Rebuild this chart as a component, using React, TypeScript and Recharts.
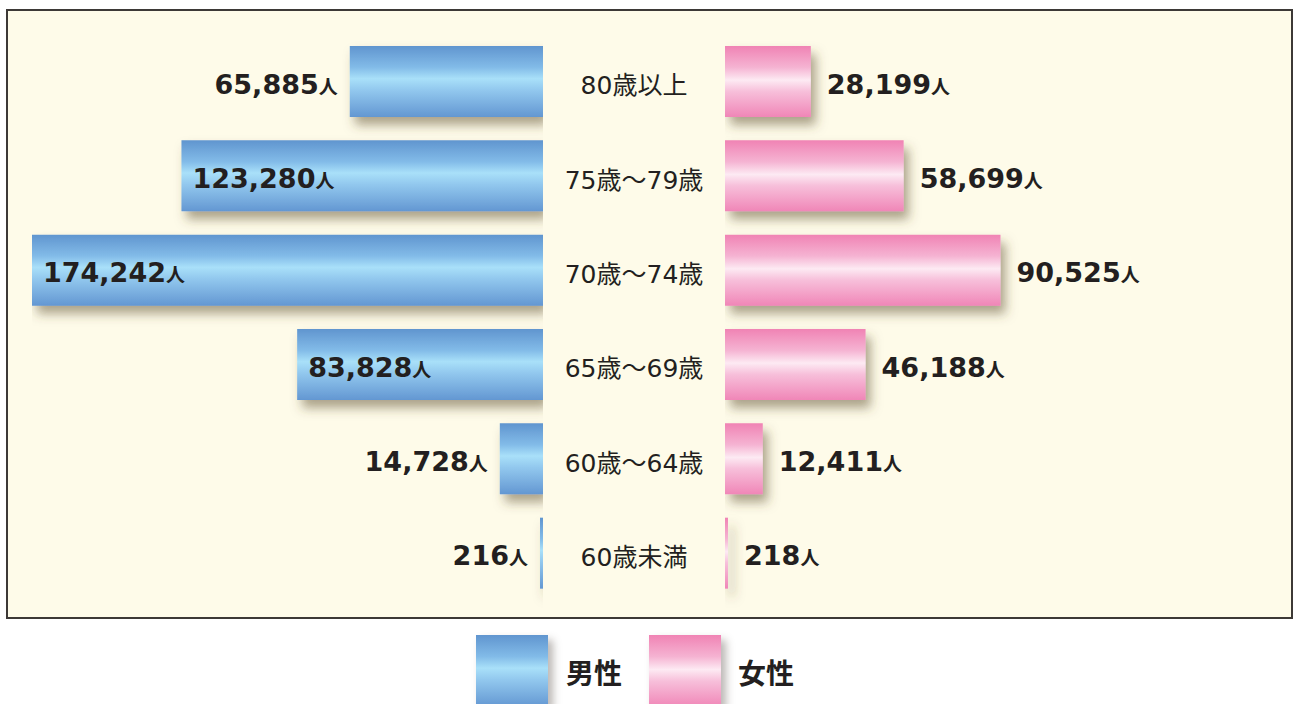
import React from 'react';
import { BarChart, Bar, XAxis, YAxis, LabelList, Rectangle } from 'recharts';

const ageGroups = ['80歳以上', '75歳～79歳', '70歳～74歳', '65歳～69歳', '60歳～64歳', '60歳未満'];
const maleCounts = [65885, 123280, 174242, 83828, 14728, 216];
const femaleCounts = [28199, 58699, 90525, 46188, 12411, 218];
const legendLabels = ['男性', '女性'];
const unitLabel = '人';

const data = ageGroups.map((age, i) => ({ age, male: maleCounts[i], female: femaleCounts[i] }));

const TEXT = '#231f20';
const NUM_FONT = "'DejaVu Sans', 'Noto Sans CJK JP', sans-serif";
const CJK_FONT = "'Noto Sans CJK JP', 'DejaVu Sans', sans-serif";
const CAT_WIDTH = 182;
const INSIDE_MIN = 80000;
const BAR_SIZE = 71;
const MARGIN_TOP = 34;
const MARGIN_BOTTOM = 104;

const maleStops = [
  ['0%', '#6095cf'],
  ['30%', '#82bbe8'],
  ['46%', '#a9e0f9'],
  ['62%', '#92c8ee'],
  ['100%', '#6397d2'],
];
const femaleStops = [
  ['0%', '#f083b4'],
  ['30%', '#f5b3d2'],
  ['48%', '#fdeaf3'],
  ['64%', '#f7bfda'],
  ['100%', '#f086b7'],
];

const Defs = ({ prefix }: { prefix: string }) => (
  <defs>
    <linearGradient id={`${prefix}Grad`} x1="0" y1="0" x2="0" y2="1">
      {(prefix === 'male' ? maleStops : femaleStops).map(([o, c]) => (
        <stop key={o} offset={o} stopColor={c} />
      ))}
    </linearGradient>
    <filter id={`${prefix}Shadow`} filterUnits="userSpaceOnUse" x={-100} y={-100} width={1600} height={900}>
      <feDropShadow dx={5} dy={8} stdDeviation={5.5} floodColor="#5a4a28" floodOpacity={0.5} />
    </filter>
  </defs>
);

const makeShape = (prefix: string) => (props: any) => (
  <g filter={`url(#${prefix}Shadow)`}>
    <Rectangle
      x={props.x}
      y={props.y}
      width={props.width}
      height={props.height}
      fill={`url(#${prefix}Grad)`}
    />
  </g>
);

const getBox = (props: any) => {
  const vb = props.viewBox && props.viewBox.width !== undefined ? props.viewBox : props;
  const x = Number(vb.x);
  const w = Number(vb.width);
  const y = Number(vb.y);
  const h = Number(vb.height);
  return { left: Math.min(x, x + w), right: Math.max(x, x + w), cy: y + h / 2 };
};

const ValueText = ({ x, y, anchor, value }: { x: number; y: number; anchor: string; value: number }) => (
  <text x={x} y={y} textAnchor={anchor as any} fontFamily={NUM_FONT} fontWeight={700} fontSize={27} fill={TEXT}>
    {value.toLocaleString('en-US')}
    <tspan fontFamily={CJK_FONT} fontSize={19} fontWeight={700}>
      {unitLabel}
    </tspan>
  </text>
);

const MaleLabel = (props: any) => {
  const { left, cy } = getBox(props);
  const value = Number(props.value);
  const inside = value >= INSIDE_MIN;
  return inside ? (
    <ValueText x={left + 11} y={cy + 12} anchor="start" value={value} />
  ) : (
    <ValueText x={left - 12} y={cy + 12} anchor="end" value={value} />
  );
};

const FemaleLabel = (props: any) => {
  const { right, cy } = getBox(props);
  const value = Number(props.value);
  return <ValueText x={right + 16} y={cy + 12} anchor="start" value={value} />;
};

const CategoryTick = (props: any) => {
  const { x, y, payload } = props;
  return (
    <text
      x={Number(x) + CAT_WIDTH / 2}
      y={Number(y) + 13}
      textAnchor="middle"
      fontFamily={NUM_FONT}
      fontSize={25}
      fill={TEXT}
    >
      {payload.value}
    </text>
  );
};

const legendGradient = (stops: string[][]) =>
  `linear-gradient(to bottom, ${stops.map(([o, c]) => `${c} ${o}`).join(', ')})`;

export default function App() {
  return (
    <div
      style={{
        position: 'absolute',
        left: 0,
        top: 0,
        width: 1293,
        height: 704,
        overflow: 'hidden',
        background: '#ffffff',
      }}
    >
      <div
        style={{
          position: 'absolute',
          left: 6,
          top: 9,
          width: 1287,
          height: 610,
          boxSizing: 'border-box',
          border: '2px solid #3d3936',
          background: '#fefbe9',
        }}
      />
      <div style={{ position: 'absolute', left: 0, top: 0 }}>
        <BarChart
          width={725}
          height={704}
          data={data}
          layout="vertical"
          margin={{ top: MARGIN_TOP, bottom: MARGIN_BOTTOM, left: 32, right: 0 }}
        >
          <Defs prefix="male" />
          <XAxis type="number" domain={[0, 174242]} reversed hide allowDataOverflow />
          <YAxis
            type="category"
            dataKey="age"
            orientation="right"
            width={CAT_WIDTH}
            axisLine={false}
            tickLine={false}
            tickSize={0}
            tickMargin={0}
            interval={0}
            tick={<CategoryTick />}
          />
          <Bar
            dataKey="male"
            barSize={BAR_SIZE}
            minPointSize={3}
            isAnimationActive={false}
            shape={makeShape('male')}
          >
            <LabelList dataKey="male" content={<MaleLabel />} />
          </Bar>
        </BarChart>
      </div>
      <div style={{ position: 'absolute', left: 725, top: 0 }}>
        <BarChart
          width={568}
          height={704}
          data={data}
          layout="vertical"
          margin={{ top: MARGIN_TOP, bottom: MARGIN_BOTTOM, left: 0, right: 8 }}
        >
          <Defs prefix="female" />
          <XAxis type="number" domain={[0, 184000]} hide allowDataOverflow />
          <YAxis type="category" dataKey="age" hide />
          <Bar
            dataKey="female"
            barSize={BAR_SIZE}
            minPointSize={3}
            isAnimationActive={false}
            shape={makeShape('female')}
          >
            <LabelList dataKey="female" content={<FemaleLabel />} />
          </Bar>
        </BarChart>
      </div>
      {legendLabels.map((label, i) => (
        <div
          key={label}
          style={{ position: 'absolute', left: i === 0 ? 476 : 649, top: 635, display: 'flex', alignItems: 'flex-start' }}
        >
          <div
            style={{
              width: 72,
              height: 72,
              background: legendGradient(i === 0 ? maleStops : femaleStops),
              boxShadow: '5px 5px 8px rgba(60,50,40,0.35)',
            }}
          />
          <span
            style={{
              marginLeft: i === 0 ? 18 : 17,
              marginTop: 19,
              fontFamily: CJK_FONT,
              fontWeight: 700,
              fontSize: 28,
              lineHeight: '36px',
              color: TEXT,
            }}
          >
            {label}
          </span>
        </div>
      ))}
    </div>
  );
}
